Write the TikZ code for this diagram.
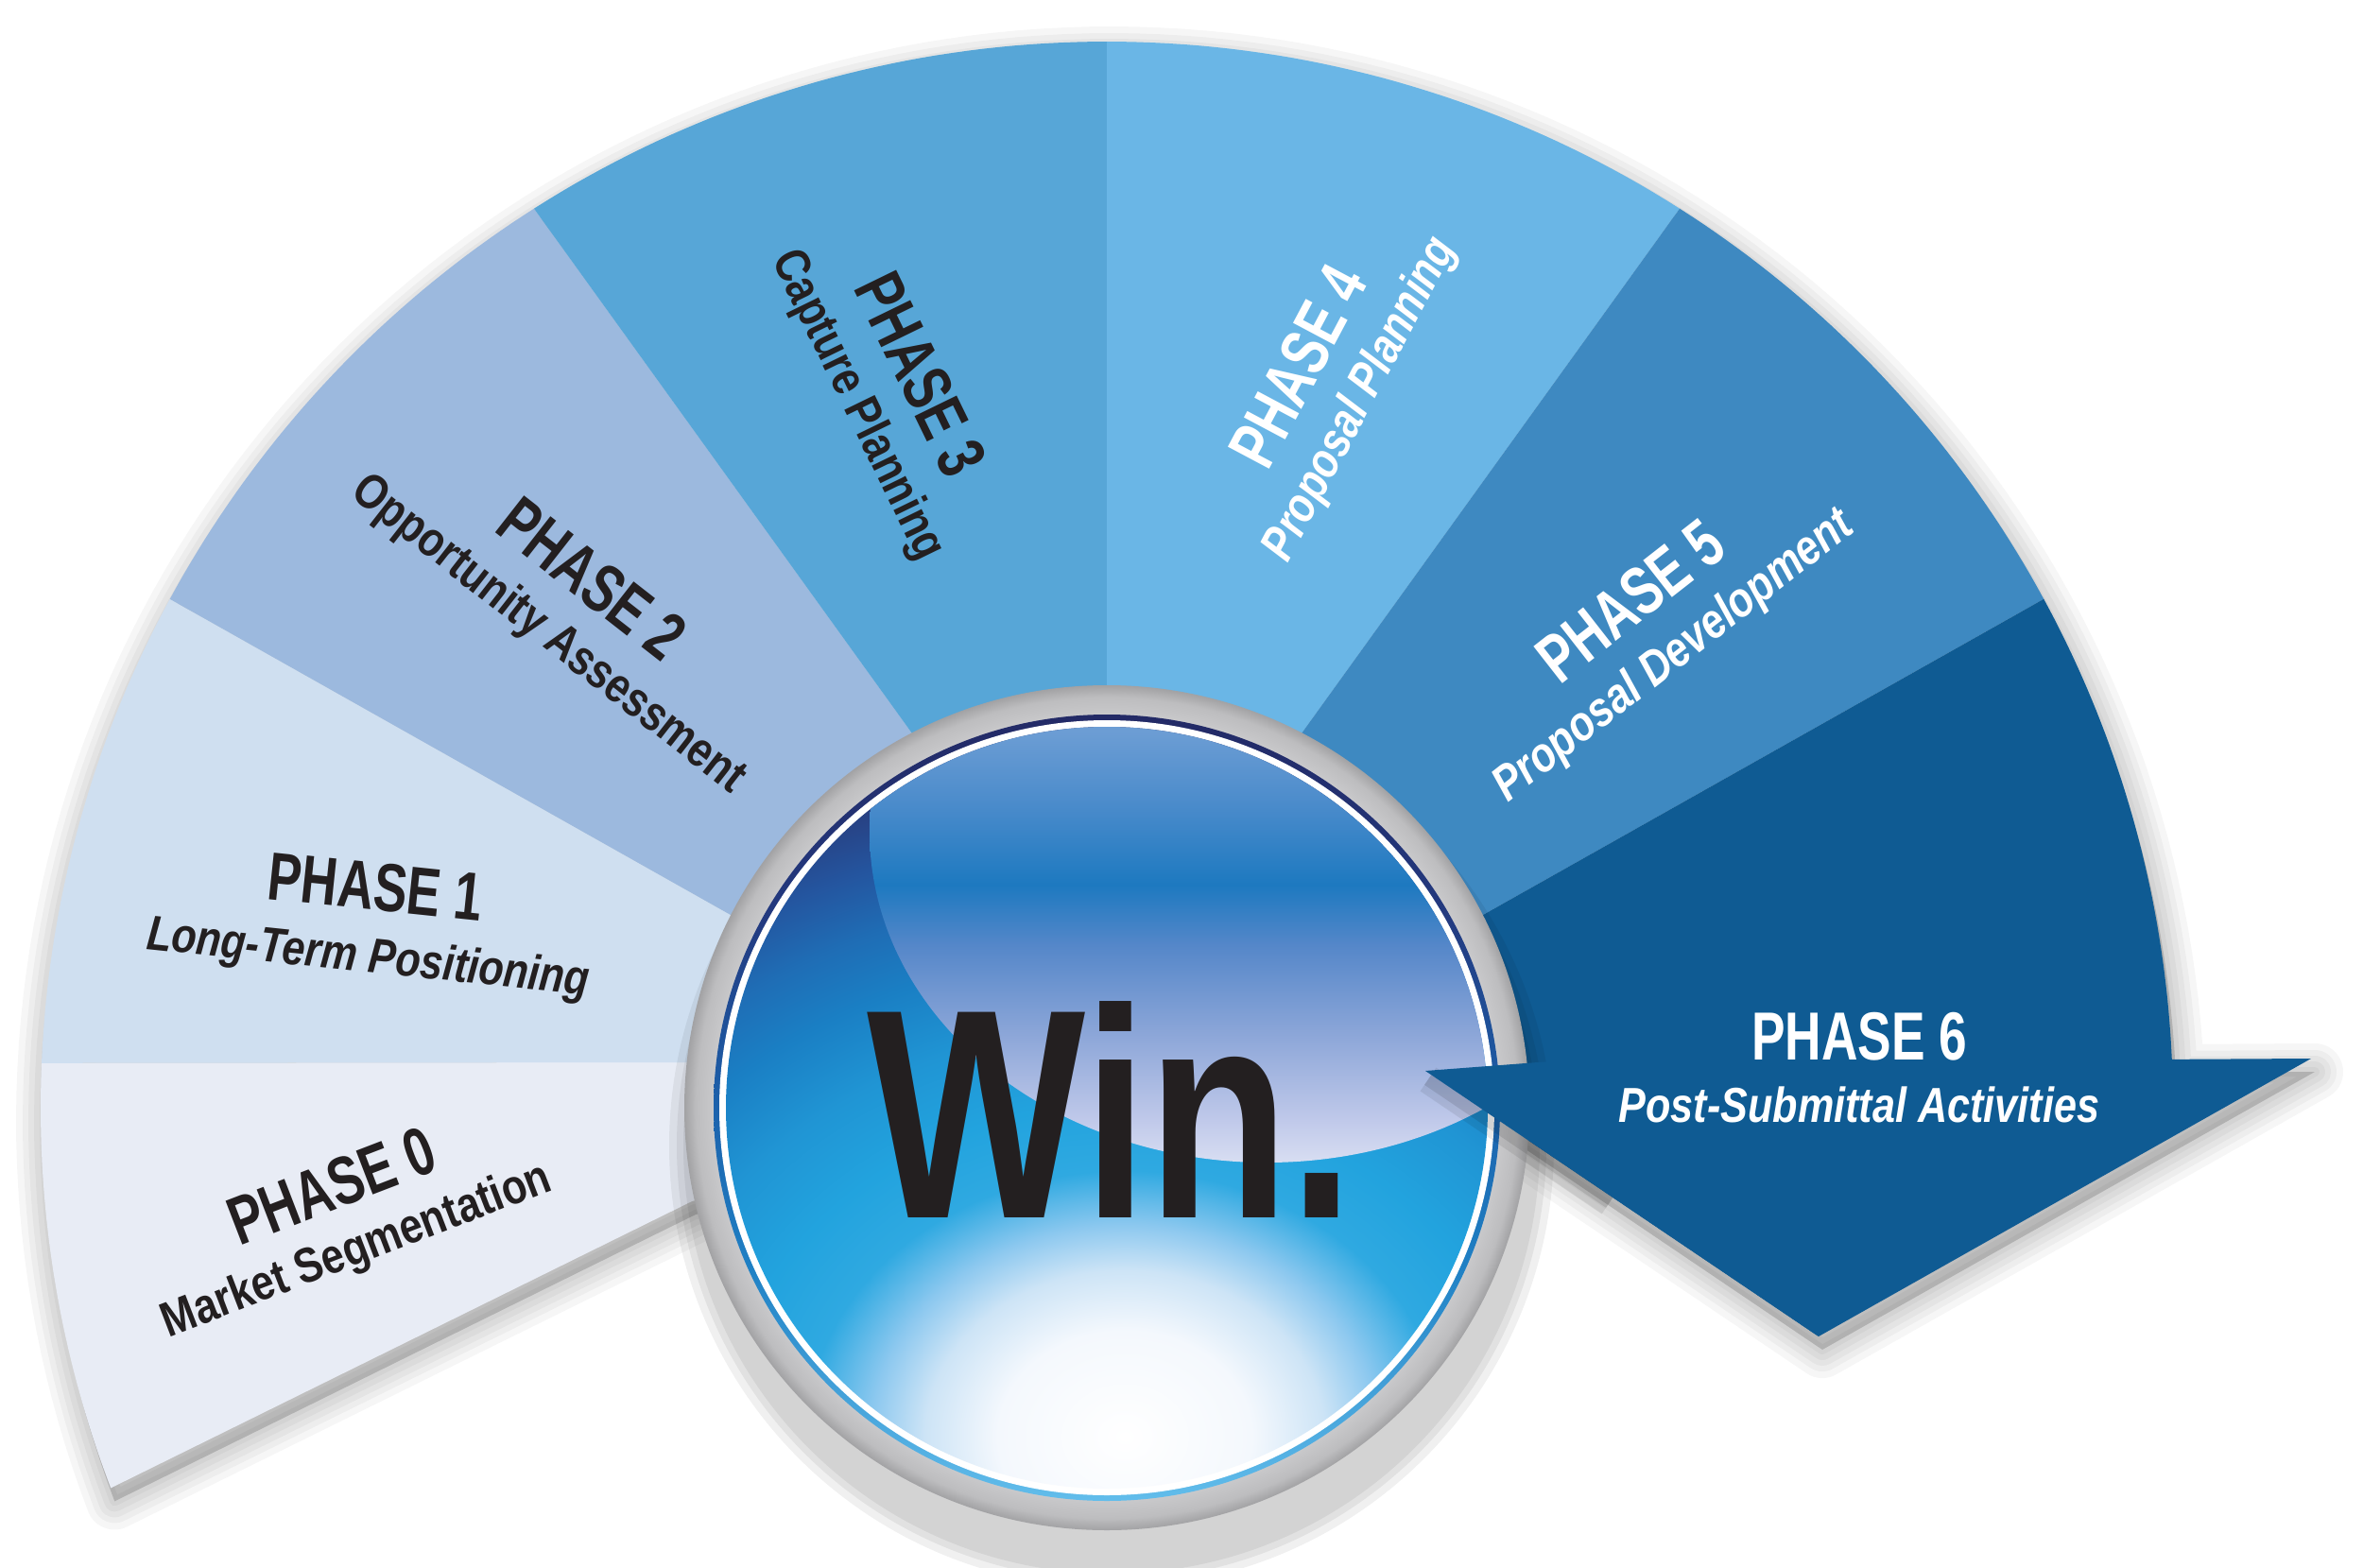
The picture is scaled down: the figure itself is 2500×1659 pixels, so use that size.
\documentclass[tikz,border=0pt]{standalone}
\usepackage{fontspec}
\setmainfont{Liberation Sans}
\definecolor{p0}{HTML}{E8ECF5}
\definecolor{p1}{HTML}{CFDFF0}
\definecolor{p2}{HTML}{9CB9DE}
\definecolor{p3}{HTML}{57A6D7}
\definecolor{p4}{HTML}{6AB6E6}
\definecolor{p5}{HTML}{3E89C1}
\definecolor{p6}{HTML}{0F5B93}
\definecolor{txtdark}{HTML}{231F20}
% blue glass
\definecolor{bg1}{HTML}{F4F8FD}
\definecolor{bg2}{HTML}{CDE4F6}
\definecolor{bg3}{HTML}{8CC8EF}
\definecolor{bg4}{HTML}{2FA9E1}
\definecolor{bg5}{HTML}{22A3DE}
\definecolor{bg6}{HTML}{2095D4}
\definecolor{bg7}{HTML}{1A7FC4}
\definecolor{bg8}{HTML}{1F6DB5}
\definecolor{bg9}{HTML}{24559F}
\definecolor{bg10}{HTML}{283F80}
\definecolor{bg11}{HTML}{2A3877}
% ring
\definecolor{rg1}{HTML}{C9C9CB}
\definecolor{rg2}{HTML}{BDBDBF}
\definecolor{rg3}{HTML}{A2A2A4}
% rim
\definecolor{rm1}{HTML}{62BDEB}
\definecolor{rm2}{HTML}{1F80C4}
\definecolor{rm3}{HTML}{1C62AC}
\definecolor{rm4}{HTML}{233A80}
\definecolor{rm5}{HTML}{232A66}
% highlight
\definecolor{hl1}{HTML}{D8DEF2}
\definecolor{hl2}{HTML}{C0C9EA}
\definecolor{hl3}{HTML}{8CA6D8}
\definecolor{hl4}{HTML}{5587C9}
\definecolor{hl5}{HTML}{1D79C0}
\definecolor{hl6}{HTML}{4A8BCB}
\definecolor{hl7}{HTML}{6C9DD4}
\definecolor{hl8}{HTML}{7AA6D8}
\pgfdeclareradialshading{blueglass}{\pgfpointorigin}{color(0bp)=(white); color(3.5bp)=(bg1); color(5.5bp)=(bg2); color(7bp)=(bg3); color(8.8bp)=(bg4); color(11bp)=(bg5); color(13.5bp)=(bg6); color(16bp)=(bg7); color(18bp)=(bg8); color(20bp)=(bg9); color(22bp)=(bg10); color(25bp)=(bg11); color(50bp)=(bg11)}
\pgfdeclareradialshading{grayring}{\pgfpointorigin}{color(0bp)=(rg1); color(23.2bp)=(rg1); color(24.3bp)=(rg2); color(25bp)=(rg3); color(50bp)=(rg3)}
\pgfdeclareverticalshading{rimsh}{100bp}{color(0bp)=(rm1); color(25bp)=(rm1); color(40bp)=(rm2); color(50bp)=(rm3); color(62bp)=(rm4); color(75bp)=(rm5); color(100bp)=(rm5)}
\pgfdeclareverticalshading{hlsh}{100bp}{color(0bp)=(hl1); color(25bp)=(hl1); color(28.2bp)=(hl2); color(34.7bp)=(hl3); color(41.4bp)=(hl4); color(46bp)=(hl5); color(52bp)=(hl6); color(57.6bp)=(hl7); color(75bp)=(hl8); color(100bp)=(hl8)}
\newcommand{\hsq}[2]{\scalebox{#1}[1]{#2}}
\tikzset{
  ttlbox/.style={font=\fontsize{72}{72}\selectfont\bfseries, inner sep=0pt, transform shape, anchor=base},
  subbox/.style={font=\fontsize{52}{52}\selectfont\bfseries, inner sep=0pt, transform shape, anchor=base},
  subital/.style={font=\fontsize{52}{52}\selectfont\bfseries\itshape, inner sep=0pt, transform shape, anchor=base},
  darktxt/.style={text=txtdark},
  lighttxt/.style={text=white},
  wintext/.style={font=\fontsize{316}{316}\selectfont\bfseries, text=txtdark, inner sep=0pt, anchor=base},
}
\begin{document}
\begin{tikzpicture}[x=1pt,y=-1pt]
\useasboundingbox (0,0) rectangle (2500,1659);
\fill[white] (0,0) rectangle (2500,1659);
% fan shadow
\fill[shift={(4,14)}, black, opacity=0.16]
    (732,1271) -- plot[domain=159.1:357.4, samples=160] ({1171+1128*cos(\x)},{1172+1128*sin(\x)})
    -- (2445,1120) -- (1924,1414) -- (1508,1133) -- (1171,1172) -- cycle;
\foreach \w/\o in {60/0.035,46/0.035,34/0.035,22/0.035,10/0.035}{
  \draw[shift={(4,14)}, line width=\w pt, black, opacity=\o, line join=round]
    (732,1271) -- plot[domain=159.1:357.4, samples=160] ({1171+1128*cos(\x)},{1172+1128*sin(\x)})
    -- (2445,1120) -- (1924,1414) -- (1508,1133) -- (1171,1172) -- cycle;
}
% sectors
\fill[p0] (732,1271) -- plot[domain=159.1:182.4, samples=40] ({1171+1128*cos(\x)},{1172+1128*sin(\x)}) -- (727,1124) -- (1171,1172) -- cycle;
\fill[p1] (727,1124) -- plot[domain=182.4:208.5, samples=40] ({1171+1128*cos(\x)},{1172+1128*sin(\x)}) -- (773,968) -- (1171,1172) -- cycle;
\fill[p2] (773,968) -- plot[domain=208.5:237.5, samples=40] ({1171+1128*cos(\x)},{1172+1128*sin(\x)}) -- (965,776) -- (1171,1172) -- cycle;
\fill[p3] (965,776) -- plot[domain=237.5:270, samples=40] ({1171+1128*cos(\x)},{1172+1128*sin(\x)}) -- (1171,725) -- (1171,1172) -- cycle;
\fill[p4] (1171,725) -- plot[domain=270:302.5, samples=40] ({1171+1128*cos(\x)},{1172+1128*sin(\x)}) -- (1377,776) -- (1171,1172) -- cycle;
\fill[p5] (1377,776) -- plot[domain=302.5:331.5, samples=40] ({1171+1128*cos(\x)},{1172+1128*sin(\x)}) -- (1569,968) -- (1171,1172) -- cycle;
\fill[p6] (1569,968) -- plot[domain=331.5:357.4, samples=40] ({1171+1128*cos(\x)},{1172+1128*sin(\x)}) -- (2445,1120) -- (1924,1414) -- (1508,1133) -- (1171,1172) -- cycle;
% circle shadow
\foreach \r in {468,460,453}{\fill[black, opacity=0.06] (1176,1212) circle (\r);}
% ring, rim, white ring
\shade[shading=grayring] (1171,1172) circle (447);
\shade[shading=rimsh] (1171,1172) circle (416);
\fill[white] (1171,1172) circle (410);
% glass disk
\begin{scope}
  \clip (1171,1172) circle (403);
  \shade[shading=blueglass] (230,720) rectangle (2150,2320);
  \shade[shading=hlsh] (1340,880) ellipse [x radius=420, y radius=350];
\end{scope}
\node[wintext] (win) at (1175,1288) {\hsq{0.775}{Win.}};
% arrow pointer over the circle
\foreach \w/\o in {30/0.08,14/0.1}{
  \draw[shift={(3,9)}, line width=\w pt, black, opacity=\o, line join=round] (1508,1133) -- (1700,1263);
}
\fill[p6] (1508,1133) -- (1680,1120) -- (1924,1414) -- cycle;
% labels
\begin{scope}[shift={(360,1278)}, rotate=21]
  \node[ttlbox, darktxt] (t0) at (0,0) {\hsq{0.74}{PHASE 0}};
  \node[subbox, darktxt] (s0) at (0,63) {\hsq{0.83}{Market Segmentation}};
\end{scope}
\begin{scope}[shift={(395,963)}, rotate=-6]
  \node[ttlbox, darktxt] (t1) at (0,0) {\hsq{0.74}{PHASE 1}};
  \node[subital, darktxt] (s1) at (0,66) {\hsq{0.83}{Long-Term Positioning}};
\end{scope}
\begin{scope}[shift={(611,632)}, rotate=-38]
  \node[ttlbox, darktxt] (t2) at (0,0) {\hsq{0.74}{PHASE 2}};
  \node[subbox, darktxt] (s2) at (0,64) {\hsq{0.83}{Opportunity Assessment}};
\end{scope}
\begin{scope}[shift={(952,407)}, rotate=-64]
  \node[ttlbox, darktxt] (t3) at (0,0) {\hsq{0.74}{PHASE 3}};
  \node[subbox, darktxt] (s3) at (0,64) {\hsq{0.83}{Capture Planning}};
\end{scope}
\begin{scope}[shift={(1395,399)}, rotate=62]
  \node[ttlbox, lighttxt] (t4) at (0,0) {\hsq{0.74}{PHASE 4}};
  \node[subital, lighttxt] (s4) at (0,64) {\hsq{0.83}{Proposal Planning}};
\end{scope}
\begin{scope}[shift={(1740,655)}, rotate=38]
  \node[ttlbox, lighttxt] (t5) at (0,0) {\hsq{0.74}{PHASE 5}};
  \node[subital, lighttxt] (s5) at (0,64) {\hsq{0.83}{Proposal Development}};
\end{scope}
\begin{scope}[shift={(1967,1121)}]
  \node[ttlbox, lighttxt] (t6) at (0,0) {\hsq{0.74}{PHASE 6}};
  \node[subital, lighttxt] (s6) at (0,66) {\hsq{0.83}{Post-Submittal Activities}};
\end{scope}
\end{tikzpicture}
\end{document}
